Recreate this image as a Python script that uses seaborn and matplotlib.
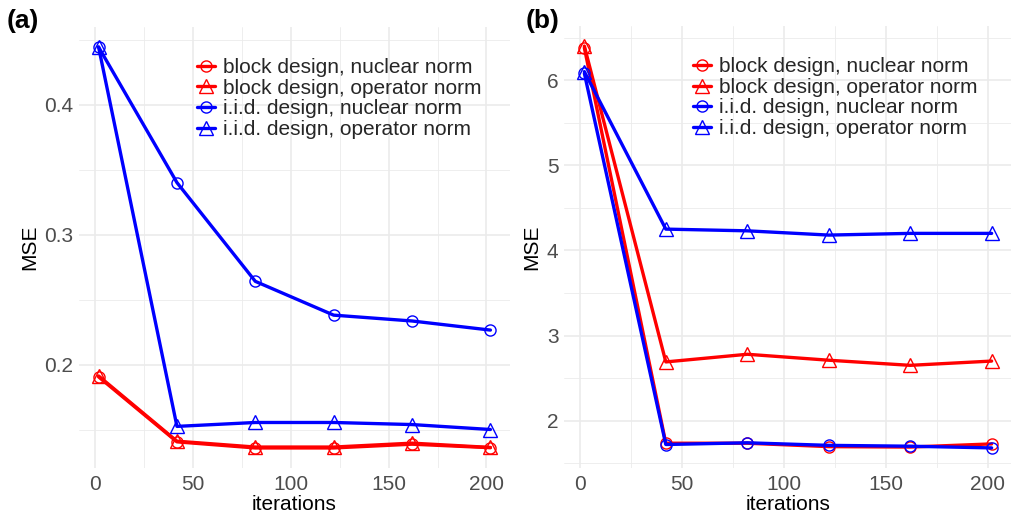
import matplotlib
matplotlib.use("Agg")
import matplotlib.pyplot as plt
import seaborn as sns
import pandas as pd
from matplotlib.ticker import MultipleLocator

sns.set_theme(style="white")
plt.rcParams['font.family'] = ['Liberation Sans', 'DejaVu Sans']

iterations = [2, 42, 82, 122, 162, 202]
labels = ["block design, nuclear norm", "block design, operator norm",
          "i.i.d. design, nuclear norm", "i.i.d. design, operator norm"]
colors = ["#FF0000", "#FF0000", "#0000FF", "#0000FF"]
markers = ["o", "^", "o", "^"]

a_block_nuc = [0.1905, 0.1405, 0.1358, 0.1358, 0.1387, 0.1360]
a_block_op = [0.1912, 0.1410, 0.1365, 0.1365, 0.1395, 0.1362]
a_iid_nuc = [0.4443, 0.3400, 0.2640, 0.2380, 0.2335, 0.2265]
a_iid_op = [0.4443, 0.1524, 0.1554, 0.1554, 0.1538, 0.1500]

b_block_nuc = [6.38, 1.735, 1.735, 1.695, 1.690, 1.727]
b_block_op = [6.40, 2.690, 2.780, 2.710, 2.650, 2.700]
b_iid_nuc = [6.08, 1.720, 1.740, 1.710, 1.700, 1.680]
b_iid_op = [6.10, 4.250, 4.230, 4.180, 4.200, 4.200]

panels = [
    ("(a)", [a_block_nuc, a_block_op, a_iid_nuc, a_iid_op], 0.1, 0.05),
    ("(b)", [b_block_nuc, b_block_op, b_iid_nuc, b_iid_op], 1.0, 0.5),
]

W, H = 1012, 519
fig = plt.figure(figsize=(W / 100, H / 100), dpi=100)
fig.patch.set_facecolor("white")

axes_px = [(79, 510, 27, 468), (564, 1012, 26, 468)]
legend_x = [0.274, 0.288]
title_x = [7, 526]

for i, (title, series, ymaj, ymin) in enumerate(panels):
    l, r, t, b = axes_px[i]
    ax = fig.add_axes([l / W, (H - b) / H, (r - l) / W, (b - t) / H])
    rows = []
    for lab, vals in zip(labels, series):
        for x, y in zip(iterations, vals):
            rows.append({"iterations": x, "MSE": y, "series": lab})
    df = pd.DataFrame(rows)
    for lab, col, mk in zip(labels, colors, markers):
        sub = df[df["series"] == lab]
        sns.lineplot(data=sub, x="iterations", y="MSE", ax=ax, color=col,
                     marker=mk, markersize=8 if mk == "o" else 10,
                     markerfacecolor="none", markeredgecolor=col,
                     markeredgewidth=1.0, linewidth=2.4, label=lab,
                     zorder=3)
    allv = [v for s in series for v in s]
    lo, hi = min(allv), max(allv)
    pad = 0.05 * (hi - lo)
    ax.set_ylim(lo - pad, hi + pad)
    ax.set_xlim(2 - 0.05 * 200, 202 + 0.05 * 200)
    ax.xaxis.set_major_locator(MultipleLocator(50))
    ax.xaxis.set_minor_locator(MultipleLocator(25))
    ax.yaxis.set_major_locator(MultipleLocator(ymaj))
    ax.yaxis.set_minor_locator(MultipleLocator(ymin))
    if i == 0:
        ax.yaxis.set_major_formatter(plt.FuncFormatter(lambda v, p: f"{v:.1f}"))
    else:
        ax.yaxis.set_major_formatter(plt.FuncFormatter(lambda v, p: f"{v:.0f}"))
    ax.grid(True, which="major", color="#EBEBEB", linewidth=1.2, zorder=0)
    ax.grid(True, which="minor", color="#EBEBEB", linewidth=0.6, zorder=0)
    ax.set_axisbelow(True)
    for s in ax.spines.values():
        s.set_visible(False)
    ax.tick_params(which="both", length=0, labelsize=15, colors="#4D4D4D")
    ax.tick_params(axis="x", pad=5)
    ax.tick_params(axis="y", pad=4)
    ax.set_xlabel("iterations", fontsize=15, color="black", labelpad=1)
    ax.set_ylabel("MSE", fontsize=15, color="black", labelpad=4)
    leg = ax.legend(loc="upper left", bbox_to_anchor=(legend_x[i], 0.9295),
                    frameon=False, fontsize=15, borderpad=0, borderaxespad=0,
                    handlelength=0.85, handletextpad=0.4, labelspacing=0.08)
    fig.text(title_x[i] / W, 1 - 21 / H, title, fontsize=19, fontweight="bold",
             va="center", ha="left", color="black")

fig.savefig("out.png", dpi=100)
